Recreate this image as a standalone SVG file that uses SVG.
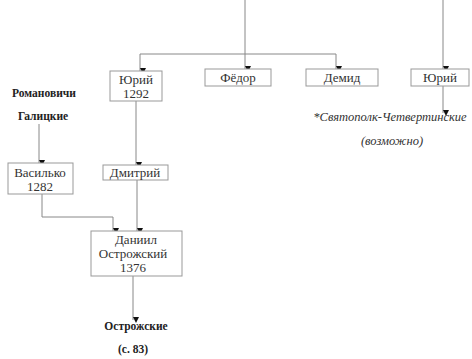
<svg xmlns="http://www.w3.org/2000/svg" width="472" height="359" viewBox="0 0 472 359">
<defs>
<marker id="ah" viewBox="0 0 8 8" refX="4" refY="8" markerWidth="6" markerHeight="6" markerUnits="userSpaceOnUse" orient="auto">
<path d="M0,0 L8,4 L0,8 Z" fill="#111"/>
</marker>
<style>
.box{fill:#fff;stroke:#999;stroke-width:1}
text{font-family:"Times New Roman","Liberation Serif",Tinos,"DejaVu Serif",serif}
.t{font-size:13px;fill:#333;text-anchor:middle}
.b{font-size:11.5px;font-weight:bold;fill:#222;text-anchor:middle}
.i{font-size:12.5px;font-style:italic;fill:#333;text-anchor:middle}
.c{fill:none;stroke:#888;stroke-width:1}
</style>
</defs>
<rect width="472" height="359" fill="#fff"/>
<g id="connectors">
<path class="c" d="M245,0 V69" marker-end="url(#ah)"/>
<path class="c" d="M140,54 H336 V69" marker-end="url(#ah)"/>
<path class="c" d="M140,54 V71" marker-end="url(#ah)"/>
<path class="c" d="M443,0 V69" marker-end="url(#ah)"/>
<path class="c" d="M443,86 V113" marker-end="url(#ah)"/>
<path class="c" d="M136,101 V165" marker-end="url(#ah)"/>
<path class="c" d="M39,124 V163" marker-end="url(#ah)"/>
<path class="c" d="M42,194 V217 H113 V231" marker-end="url(#ah)"/>
<path class="c" d="M137,180 V231" marker-end="url(#ah)"/>
<path class="c" d="M133,276 V320" marker-end="url(#ah)"/>
</g>
<g id="yuri1292">
<rect class="box" x="110" y="71" width="52" height="30"/>
<text class="t" x="136" y="84">Юрий</text>
<text class="t" x="136" y="98">1292</text>
</g>
<g id="fedor">
<rect class="box" x="205" y="69" width="66" height="17"/>
<text class="t" x="238" y="82">Фёдор</text>
</g>
<g id="demid">
<rect class="box" x="306" y="69" width="72" height="17"/>
<text class="t" x="342" y="82">Демид</text>
</g>
<g id="yuri2">
<rect class="box" x="411" y="69" width="58" height="17"/>
<text class="t" x="440" y="82">Юрий</text>
</g>
<g id="svyatopolk">
<text class="i" x="390" y="121">*Святополк-Четвертинские</text>
<text class="i" x="392" y="145">(возможно)</text>
</g>
<g id="romanovichi">
<text class="b" x="44" y="97">Романовичи</text>
<text class="b" x="43" y="120">Галицкие</text>
</g>
<g id="vasilko">
<rect class="box" x="8" y="163" width="65" height="31"/>
<text class="t" x="40" y="177">Василько</text>
<text class="t" x="40" y="191">1282</text>
</g>
<g id="dmitry">
<rect class="box" x="103" y="165" width="65" height="15"/>
<text class="t" x="135" y="177">Дмитрий</text>
</g>
<g id="daniil">
<rect class="box" x="91" y="231" width="91" height="45"/>
<text class="t" x="136" y="244">Даниил</text>
<text class="t" x="133" y="258">Острожский</text>
<text class="t" x="133" y="272">1376</text>
</g>
<g id="ostrozhskie">
<text class="b" x="136" y="330">Острожские</text>
<text class="b" x="133" y="353">(с. 83)</text>
</g>
</svg>
